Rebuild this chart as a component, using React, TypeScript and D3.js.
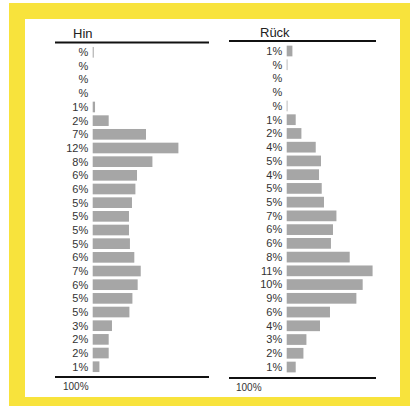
import React from "react";
import * as d3 from "d3";

const WIDTH = 410;
const HEIGHT = 407;

// 24 rows per panel, top to bottom
const hinLabels = ["%", "%", "%", "%", "1%", "2%", "7%", "12%", "8%", "6%", "6%", "5%", "5%", "5%", "5%", "6%", "7%", "6%", "5%", "5%", "3%", "2%", "2%", "1%"];
const hinValues = [0.14, 0, 0, 0, 0.32, 2.19, 7.3, 11.74, 8.18, 6.07, 5.85, 5.38, 4.97, 4.97, 5.1, 5.7, 6.58, 6.16, 5.44, 5.03, 2.64, 2.19, 2.19, 0.92];

const rueckLabels = ["1%", "%", "%", "%", "%", "1%", "2%", "4%", "5%", "4%", "5%", "5%", "7%", "6%", "6%", "8%", "11%", "10%", "9%", "6%", "4%", "3%", "2%", "1%"];
const rueckValues = [0.76, 0.1, 0, 0, 0.1, 1.2, 1.96, 3.87, 4.57, 4.31, 4.67, 4.97, 6.63, 6.17, 5.9, 8.4, 11.45, 10.13, 9.29, 5.77, 4.44, 2.63, 2.23, 1.2];

const totalLabel = "100%";

interface IPanelProps {
  title: string;
  labels: string[];
  values: number[];
  titleX: number;
  titleY: number;
  lineX: [number, number];
  topY: number;
  bottomY: number;
  barX: number;
  pxPerUnit: number;
  firstRow: number;
  step: number;
  totalX: number;
}

const Panel: React.FC<IPanelProps> = (p) => {
  const rows = d3.range(p.values.length);
  const y = d3
    .scaleBand<number>()
    .domain(rows)
    .range([p.firstRow - p.step / 2, p.firstRow + p.step * (rows.length - 0.5)])
    .paddingInner(0.22)
    .paddingOuter(0.11);
  const x = d3
    .scaleLinear()
    .domain([0, 12])
    .range([p.barX, p.barX + 12 * p.pxPerUnit]);

  return (
    <g>
      <text x={p.titleX} y={p.titleY} fontSize={13} fill="#222">
        {p.title}
      </text>
      <line x1={p.lineX[0]} x2={p.lineX[1]} y1={p.topY} y2={p.topY} stroke="#111" strokeWidth={2} />
      {rows.map((i) => (
        <g key={i}>
          <rect
            x={x(0)}
            y={y(i)}
            width={x(p.values[i]) - x(0)}
            height={y.bandwidth()}
            fill="#a6a6a6"
          />
          <text
            x={p.barX - 4.5}
            y={(y(i) ?? 0) + y.bandwidth() / 2}
            dy="0.35em"
            textAnchor="end"
            fontSize={11}
            fill="#333"
          >
            {p.labels[i]}
          </text>
        </g>
      ))}
      <line x1={p.lineX[0]} x2={p.lineX[1]} y1={p.bottomY} y2={p.bottomY} stroke="#111" strokeWidth={2} />
      <text x={p.totalX} y={p.bottomY + 12.5} fontSize={10} fill="#333">
        {totalLabel}
      </text>
    </g>
  );
};

export default function App() {
  return (
    <div style={{ position: "absolute", left: 0, top: 0 }}>
      <svg width={WIDTH} height={HEIGHT} style={{ display: "block", fontFamily: "Arial, 'Liberation Sans', sans-serif" }}>
        <rect x={0} y={0} width={WIDTH} height={HEIGHT} fill="#fff" />
        <rect x={9} y={3} width={401} height={403} fill="#f8e33c" />
        <rect x={25} y={19} width={375} height={378} fill="#fff" />
        <Panel
          title="Hin"
          labels={hinLabels}
          values={hinValues}
          titleX={73}
          titleY={38}
          lineX={[55, 209]}
          topY={42.5}
          bottomY={377}
          barX={92.7}
          pxPerUnit={7.3}
          firstRow={52.3}
          step={13.67}
          totalX={63}
        />
        <Panel
          title="Rück"
          labels={rueckLabels}
          values={rueckValues}
          titleX={260}
          titleY={36.5}
          lineX={[229, 376]}
          topY={41}
          bottomY={378}
          barX={286.7}
          pxPerUnit={7.5}
          firstRow={51}
          step={13.74}
          totalX={236}
        />
      </svg>
    </div>
  );
}
